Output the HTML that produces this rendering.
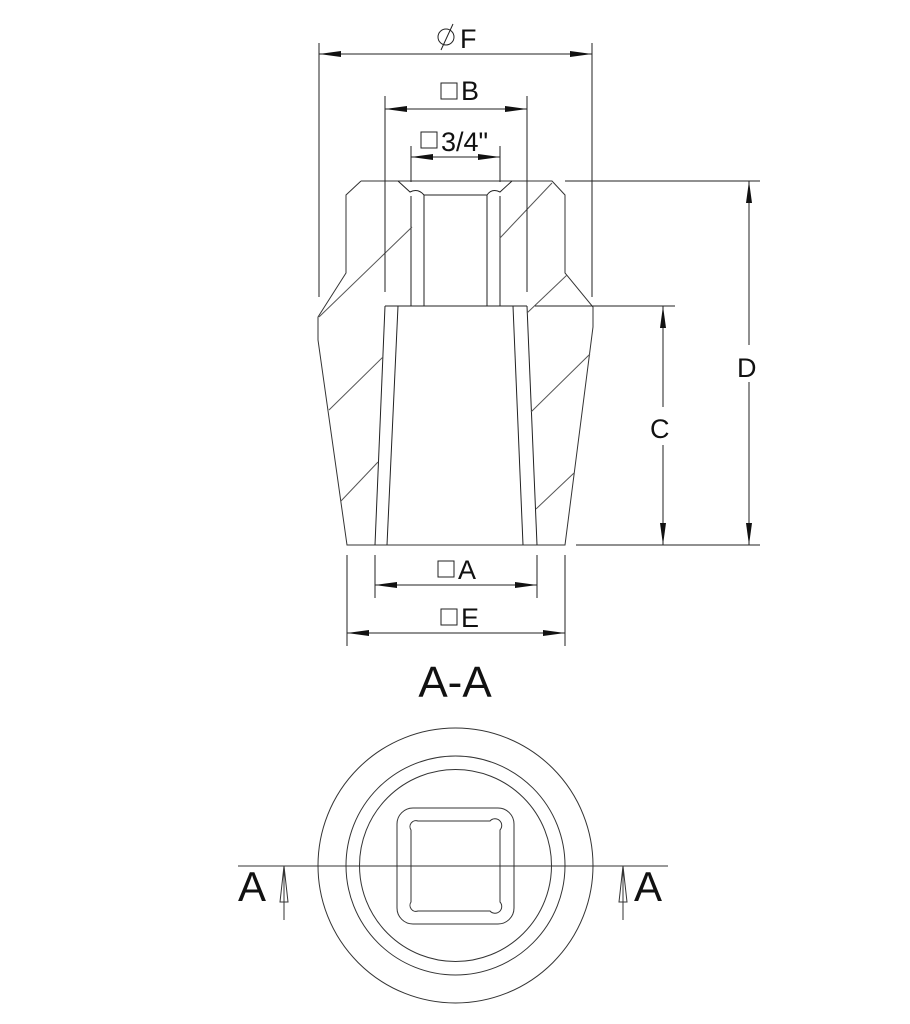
<!DOCTYPE html>
<html><head><style>html,body{margin:0;padding:0;background:#fff;}svg{display:block}</style></head>
<body>
<svg width="910" height="1024" viewBox="0 0 910 1024" xmlns="http://www.w3.org/2000/svg" font-family="Liberation Sans, sans-serif">
<g fill="none" stroke="#222" stroke-width="1">
<polyline points="361,181 552,181 565,195 565,273 593,307 593,327 565,545 347,545 318,340 318,317 346,273 346,195 361,181" stroke="#333"/>
<line x1="385" y1="306" x2="527" y2="306"/>
<line x1="385" y1="306" x2="375" y2="545"/>
<line x1="398" y1="306" x2="387" y2="545"/>
<line x1="513" y1="306" x2="523" y2="545"/>
<line x1="527" y1="306" x2="537" y2="545"/>
<line x1="411" y1="196" x2="411" y2="306"/>
<line x1="424" y1="195" x2="424" y2="306"/>
<line x1="487" y1="195" x2="487" y2="306"/>
<line x1="500" y1="196" x2="500" y2="306"/>
<line x1="424" y1="195" x2="487" y2="195"/>
<path d="M398,181 L410,192 Q418,188 424,195"/>
<path d="M512,181 L500,192 Q492,188 487,195"/>
<line x1="412" y1="227" x2="319" y2="317" stroke="#555"/>
<line x1="552" y1="183" x2="500" y2="238" stroke="#555"/>
<line x1="567" y1="275" x2="527" y2="313" stroke="#555"/>
<line x1="383" y1="357" x2="329" y2="410" stroke="#555"/>
<line x1="378" y1="462" x2="341" y2="501" stroke="#555"/>
<line x1="590" y1="354" x2="531" y2="412" stroke="#555"/>
<line x1="574" y1="473" x2="536" y2="509" stroke="#555"/>
<line x1="319" y1="43" x2="319" y2="297"/>
<line x1="592" y1="43" x2="592" y2="297"/>
<line x1="385" y1="96" x2="385" y2="292"/>
<line x1="527" y1="96" x2="527" y2="292"/>
<line x1="411" y1="146" x2="411" y2="182"/>
<line x1="500" y1="146" x2="500" y2="182"/>
<line x1="565" y1="181" x2="760" y2="181"/>
<line x1="576" y1="545" x2="760" y2="545"/>
<line x1="535" y1="306" x2="675" y2="306"/>
<line x1="347" y1="555" x2="347" y2="646"/>
<line x1="565" y1="555" x2="565" y2="646"/>
<line x1="375" y1="555" x2="375" y2="598"/>
<line x1="537" y1="555" x2="537" y2="598"/>
<line x1="319" y1="54" x2="592" y2="54"/>
<line x1="385" y1="109" x2="527" y2="109"/>
<line x1="411" y1="157" x2="500" y2="157"/>
<line x1="749" y1="181" x2="749" y2="345"/>
<line x1="749" y1="382" x2="749" y2="545"/>
<line x1="663" y1="306" x2="663" y2="407"/>
<line x1="663" y1="445" x2="663" y2="545"/>
<line x1="375" y1="585" x2="537" y2="585"/>
<line x1="347" y1="633" x2="565" y2="633"/>
</g>
<g fill="#111">
<polygon points="319,54 341,51 341,57"/><polygon points="592,54 570,51 570,57"/>
<polygon points="385,109 407,106 407,112"/><polygon points="527,109 505,106 505,112"/>
<polygon points="411,157 433,154 433,160"/><polygon points="500,157 478,154 478,160"/>
<polygon points="749,181 746,203 752,203"/><polygon points="749,545 746,523 752,523"/>
<polygon points="663,306 660,328 666,328"/><polygon points="663,545 660,523 666,523"/>
<polygon points="375,585 397,582 397,588"/><polygon points="537,585 515,582 515,588"/>
<polygon points="347,633 369,630 369,636"/><polygon points="565,633 543,630 543,636"/>
</g>
<g fill="none" stroke="#222" stroke-width="1">
<circle cx="446" cy="37" r="8"/><line x1="441" y1="50" x2="453" y2="24"/>
<rect x="441" y="83" width="16" height="16"/>
<rect x="421" y="132" width="16" height="16"/>
<rect x="438" y="561" width="16" height="16"/>
<rect x="441" y="609" width="16" height="16"/>
</g>
<g fill="#111" font-size="27">
<text x="460" y="48">F</text>
<text x="461" y="100">B</text>
<text x="441" y="151">3/4"</text>
<text x="737" y="377">D</text>
<text x="650" y="438">C</text>
<text x="458" y="579">A</text>
<text x="461" y="627">E</text>
<text x="455" y="697" font-size="44" text-anchor="middle">A-A</text>
<text x="238" y="901" font-size="42">A</text>
<text x="634" y="901" font-size="42">A</text>
</g>
<g fill="none" stroke="#333" stroke-width="1">
<circle cx="455.5" cy="865.5" r="137.5"/>
<circle cx="455.5" cy="865.5" r="109.5"/>
<circle cx="455.5" cy="865.5" r="96"/>
<rect x="397" y="808" width="117" height="116" rx="16"/>
<path d="M418,821 L490,821 A6,6 0 0 1 500,830 L500,902 A6,6 0 0 1 490,911 L418,911 A6,6 0 0 1 411,902 L411,830 A6,6 0 0 1 418,821 Z"/>
<line x1="238" y1="866" x2="668" y2="866"/>
<line x1="284" y1="866" x2="284" y2="920"/>
<polygon points="284,866 280,902 288,902"/>
<line x1="623" y1="866" x2="623" y2="920"/>
<polygon points="623,866 619,902 627,902"/>
</g>
</svg>
</body></html>
